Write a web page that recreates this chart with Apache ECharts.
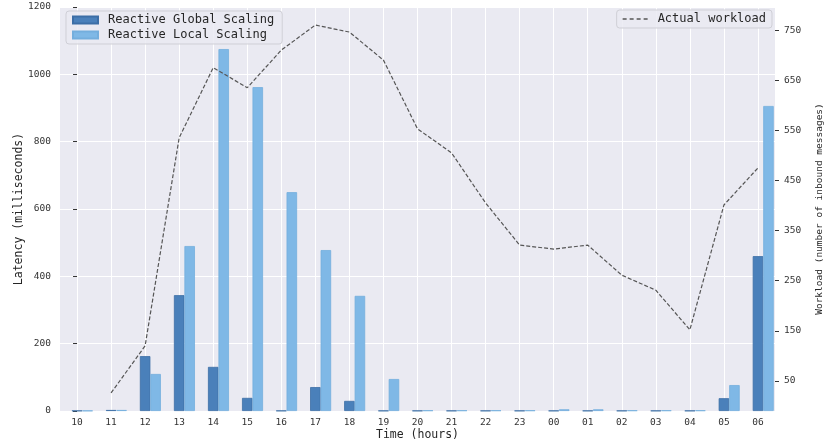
<!DOCTYPE html>
<html>
<head>
<meta charset="utf-8">
<script src="https://cdn.jsdelivr.net/npm/echarts@6/dist/echarts.min.js"></script>
<style>html,body{margin:0;padding:0;background:#fff}#c{width:830px;height:445px}</style>
</head>
<body>
<div id="c"></div>
<script>
const categories = ['10','11','12','13','14','15','16','17','18','19','20','21','22','23','00','01','02','03','04','05','06'];
const globalLatency = [1, 3, 163, 344, 131, 39, 1, 71, 30, 1, 1, 1, 1, 1, 1, 1, 1, 1, 1, 38, 460];
const localLatency  = [1, 3, 110, 490, 1075, 962, 650, 478, 342, 95, 2, 2, 2, 2, 5, 5, 2, 2, 2, 77, 906];
const workload = [null, 26, 120, 535, 675, 635, 710, 760, 746, 690, 553, 505, 405, 321, 313, 321, 261, 231, 152, 401, 475];
const leftTicks = [0, 200, 400, 600, 800, 1000, 1200];
const rightTicks = [50, 150, 250, 350, 450, 550, 650, 750];

const FONT = '"DejaVu Sans Mono", monospace';
const idx = categories.map((c, i) => i);
const toXY = arr => arr.map((v, i) => [i, v]);
const chart = echarts.init(document.getElementById('c'), null, {renderer: 'canvas'});
const barW = 10.5;
chart.setOption({
  animation: false,
  backgroundColor: '#ffffff',
  textStyle: {fontFamily: FONT},
  grid: {left: 60, right: 55, top: 7, bottom: 34, show: true, backgroundColor: '#eaeaf2', borderWidth: 0,
    containLabel: false, outerBoundsMode: 'none'},
  legend: [
    {
      data: [{name: 'Reactive Global Scaling', icon: 'rect'}, {name: 'Reactive Local Scaling', icon: 'rect'}],
      orient: 'vertical', left: 66, top: 11,
      padding: [3, 8, 3, 6], itemGap: 3, itemWidth: 25, itemHeight: 7,
      backgroundColor: 'rgba(234,234,242,0.85)', borderColor: '#cfcfd6', borderWidth: 1, borderRadius: 3,
      textStyle: {fontFamily: FONT, fontSize: 12, color: '#262626', lineHeight: 12, padding: [0, 0, 0, 5]},
      selectedMode: false
    },
    {
      data: [{name: 'Actual workload', icon: 'path://M0,0h4v1.3h-4z M7,0h4v1.3h-4z M14,0h4v1.3h-4z M21,0h4v1.3h-4z', itemStyle: {color: '#555555'}}],
      orient: 'vertical', right: 58, top: 10,
      padding: [3, 6, 3, 6], itemWidth: 25, itemHeight: 1.3,
      backgroundColor: 'rgba(234,234,242,0.85)', borderColor: '#cfcfd6', borderWidth: 1, borderRadius: 3,
      textStyle: {fontFamily: FONT, fontSize: 12, color: '#262626', lineHeight: 12, padding: [0, 0, 0, 5]},
      selectedMode: false
    }
  ],
  xAxis: {
    type: 'value', min: -0.5, max: 20.5,
    name: 'Time (hours)', nameLocation: 'middle', nameGap: 18, nameMoveOverlap: false,
    nameTextStyle: {fontFamily: FONT, fontSize: 11.5, color: '#262626'},
    axisLine: {show: false},
    axisTick: {show: false, customValues: idx},
    axisLabel: {fontFamily: FONT, fontSize: 9.5, color: '#333', margin: 7, customValues: idx,
      formatter: v => categories[Math.round(v)]},
    splitLine: {show: true, lineStyle: {color: '#ffffff', width: 1}}
  },
  yAxis: [
    {
      type: 'value', min: 0, max: 1200, interval: 200, position: 'left',
      name: 'Latency (milliseconds)', nameLocation: 'middle', nameGap: 35, nameRotate: 90, nameMoveOverlap: false,
      nameTextStyle: {fontFamily: FONT, fontSize: 11.5, color: '#262626'},
      axisLine: {show: false},
      axisTick: {show: true, length: 4, lineStyle: {color: '#333', width: 1}},
      axisLabel: {fontFamily: FONT, fontSize: 9.5, color: '#333', margin: 9, formatter: v => String(v)},
      splitLine: {show: true, lineStyle: {color: '#ffffff', width: 1}}
    },
    {
      type: 'value', min: -10, max: 796, position: 'right',
      name: 'Workload (number of inbound messages)', nameLocation: 'middle', nameGap: 40, nameRotate: 90, nameMoveOverlap: false,
      nameTextStyle: {fontFamily: FONT, fontSize: 9.5, color: '#262626'},
      axisLine: {show: false},
      axisTick: {show: true, length: 4, customValues: rightTicks, lineStyle: {color: '#333', width: 1}},
      axisLabel: {fontFamily: FONT, fontSize: 9.5, color: '#333', margin: 9, customValues: rightTicks, formatter: v => String(v)},
      splitLine: {show: false}
    }
  ],
  series: [
    {name: 'spacer', type: 'bar', barWidth: barW, barGap: '0%', data: idx.map(i => [i, null]), silent: true},
    {name: 'Reactive Global Scaling', type: 'bar', barWidth: barW, barGap: '0%', data: toXY(globalLatency),
      itemStyle: {color: '#4a80ba', borderColor: '#3c6ea6', borderWidth: 0.8}},
    {name: 'Reactive Local Scaling', type: 'bar', barWidth: barW, barGap: '0%', data: toXY(localLatency),
      itemStyle: {color: '#7fb8e6', borderColor: '#74aedd', borderWidth: 0.8}},
    {name: 'Actual workload', type: 'line', yAxisIndex: 1, data: toXY(workload).filter(p => p[1] !== null), symbol: 'none',
      lineStyle: {color: '#555555', width: 1.2, type: [4, 2]}, itemStyle: {color: '#555555'}, z: 5}
  ]
});
</script>
</body>
</html>
